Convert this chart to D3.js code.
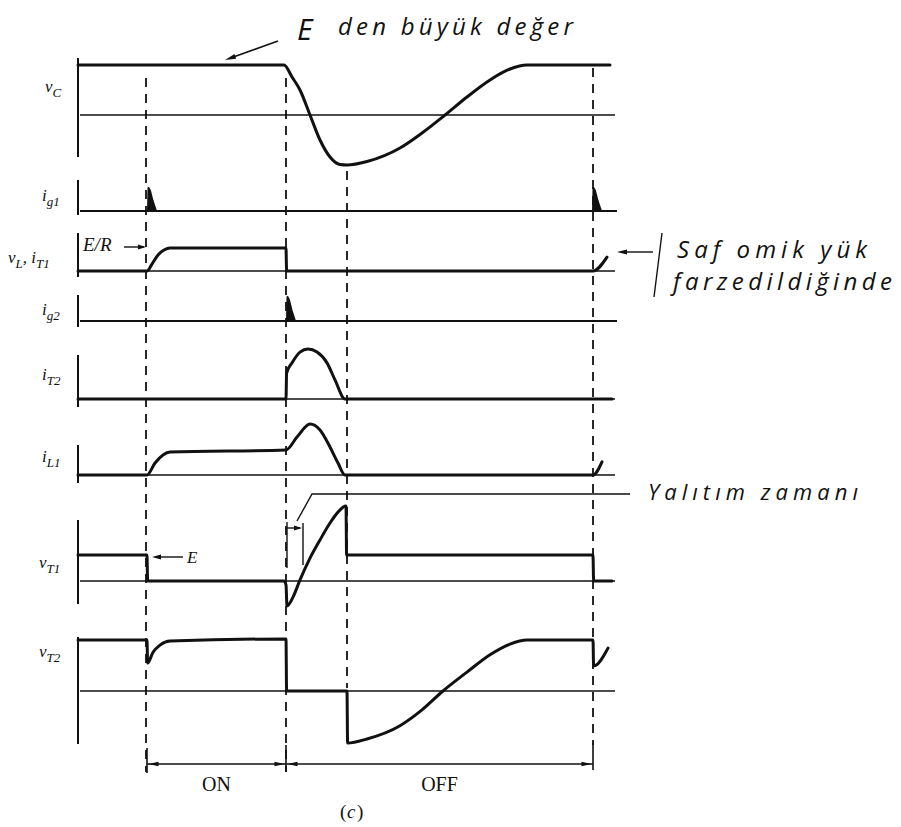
<!DOCTYPE html>
<html>
<head>
<meta charset="utf-8">
<script src="https://cdn.jsdelivr.net/npm/d3@7"></script>
<style>
  body { margin: 0; background: #fff; }
  svg { display: block; }
  .lbl { font-family: "Liberation Serif", "DejaVu Serif", serif; font-style: italic; fill: #111; }
  .rom { font-family: "Liberation Serif", "DejaVu Serif", serif; fill: #111; }
  .hand { font-family: "Open Sans", "DejaVu Sans", sans-serif; font-style: italic; font-weight: 400; fill: #111; }
</style>
</head>
<body>
<div id="chart"></div>
<script>
const width = 901;
const height = 827;

// time is in arbitrary units, 0 = start of the traces
const events = [68, 208, 269, 515];          // dashed markers: T1 on, T2 on (T1 off), vC minimum, T1 on again
const intervals = [[69, 208], [208, 515]];
const intervalNames = ['ON', 'OFF'];

// waveforms as [t, value]; currents in units of E/R
const vC  = [[0, 1], [206, 1], [214, 0.76], [222, 0.5], [232, 0], [242, -0.5], [252, -0.84], [262, -0.99], [269, -1],
             [289, -0.93], [322, -0.66], [344, -0.36], [367, 0], [389, 0.36], [412, 0.7], [432, 0.92], [449, 1], [532, 1]];
const ig1Pulses = [70, 515];
const ig2Pulses = [209];
const pulseShape = [[0, 0], [0.5, 1], [2, 0.88], [4.5, 0.45], [8, 0]];
const vLiT1 = [[0, 0], [69, 0], [74, 0.3], [80, 0.7], [86, 0.91], [92, 1], [208, 1], [208.6, 0], [515, 0], [529, 0.6]];
const iT2 = [[0, 0], [208, 0], [208.6, 1.13], [214, 1.57], [222, 2.04], [230, 2.17], [239, 2.04], [249, 1.57],
             [257, 0.83], [267, 0], [534, 0]];
const iL1 = [[0, 0], [69, 0], [77, 0.52], [85, 0.87], [92, 1], [208, 1.09], [219, 1.65], [232, 2.22], [242, 1.96],
             [252, 1.22], [260, 0.52], [267, 0], [515, 0], [524, 0.57]];
const vT1 = [[0, 1], [69, 1], [69.6, 0], [206, 0], [208, -0.15], [209, -0.96], [215, -0.62], [222, 0.04], [232, 0.88],
             [242, 1.58], [252, 2.23], [260, 2.65], [268, 2.88], [268.6, 1], [515, 1], [515.6, 0], [534, 0]];
const vT2 = [[0, 1], [69, 1], [69.6, 0.55], [75, 0.76], [82, 0.9], [92, 0.98], [208, 1.02], [208.6, 0], [269, 0],
             [269.6, -1.02], [289, -0.94], [322, -0.68], [344, -0.37], [365, 0], [389, 0.37], [412, 0.71], [432, 0.92],
             [449, 1], [515, 1], [515.6, 0.49], [530, 0.84]];

const svg = d3.select('#chart')
  .append('svg')
  .attr('width', width)
  .attr('height', height)
  .attr('viewBox', '0 0 ' + width + ' ' + height);

svg.append('rect').attr('width', width).attr('height', height).attr('fill', '#fff');

const x = d3.scaleLinear().domain([0, 540]).range([78, 618]);

const panels = [
  { data: vC, zero: 115, unit: 50, top: 58, bottom: 157, label: [['v', 'C']], lx: 45, ly: 92 },
  { pulses: ig1Pulses, zero: 211, unit: 23, top: 180, bottom: 215, label: [['i', 'g1']], lx: 42, ly: 201 },
  { data: vLiT1, zero: 271, unit: 23, top: 233, bottom: 277, label: [['v', 'L'], [', i', 'T1']], lx: 8, ly: 263 },
  { pulses: ig2Pulses, zero: 321, unit: 24, top: 295, bottom: 327, label: [['i', 'g2']], lx: 42, ly: 315 },
  { data: iT2, zero: 399, unit: 23, top: 355, bottom: 407, label: [['i', 'T2']], lx: 42, ly: 380 },
  { data: iL1, zero: 475, unit: 23, top: 445, bottom: 483, label: [['i', 'L1']], lx: 42, ly: 462 },
  { data: vT1, zero: 581, unit: 26, top: 520, bottom: 604, label: [['v', 'T1']], lx: 39, ly: 568 },
  { data: vT2, zero: 691, unit: 51, top: 637, bottom: 744, label: [['v', 'T2']], lx: 39, ly: 657 }
];
panels.forEach(p => { p.y = d3.scaleLinear().domain([0, 1]).range([p.zero, p.zero - p.unit]); });

const ink = '#111';

function arrowHead(g, tx, ty, angle, len, half) {
  len = len || 9; half = half || 2.5;
  const a = angle * Math.PI / 180;
  const bx = tx - len * Math.cos(a), by = ty - len * Math.sin(a);
  const nx = -Math.sin(a) * half, ny = Math.cos(a) * half;
  g.append('path')
    .attr('d', 'M' + tx + ',' + ty + 'L' + (bx + nx) + ',' + (by + ny) + 'L' + (bx - nx) + ',' + (by - ny) + 'Z')
    .attr('fill', ink);
}

// dashed event markers
const dashExtent = [[78, 772], [78, 772], [171, 688], [68, 745]];
svg.append('g').selectAll('line')
  .data(events)
  .enter()
  .append('line')
  .attr('x1', d => x(d)).attr('x2', d => x(d))
  .attr('y1', (d, i) => dashExtent[i][0])
  .attr('y2', (d, i) => dashExtent[i][1])
  .attr('stroke', ink)
  .attr('stroke-width', 1.8)
  .attr('stroke-dasharray', '9,7');

const line = d3.line().curve(d3.curveMonotoneX);

panels.forEach(p => {
  const g = svg.append('g');
  // vertical axis
  g.append('line')
    .attr('x1', x(0)).attr('x2', x(0))
    .attr('y1', p.top).attr('y2', p.bottom)
    .attr('stroke', ink).attr('stroke-width', 2);
  // zero line
  g.append('line')
    .attr('x1', x(2)).attr('x2', x(p.pulses ? 539 : 537))
    .attr('y1', p.y(0)).attr('y2', p.y(0))
    .attr('stroke', ink).attr('stroke-width', p.pulses ? 2 : 1.3);

  if (p.data) {
    g.append('path')
      .attr('d', line(p.data.map(d => [x(d[0]), p.y(d[1])])))
      .attr('fill', 'none')
      .attr('stroke', ink)
      .attr('stroke-width', 3)
      .attr('stroke-linejoin', 'round')
      .attr('stroke-linecap', 'round');
  }
  if (p.pulses) {
    p.pulses.forEach(t0 => {
      g.append('path')
        .attr('d', d3.line()(pulseShape.map(d => [x(t0 + d[0]), p.y(d[1])])) + 'Z')
        .attr('fill', ink)
        .attr('stroke', ink)
        .attr('stroke-width', 2)
        .attr('stroke-linejoin', 'round');
    });
  }

  // label with subscripts
  const txt = g.append('text').attr('class', 'lbl').attr('x', p.lx).attr('y', p.ly);
  p.label.forEach((part, i) => {
    txt.append('tspan').attr('font-size', 17).attr('dy', i === 0 ? 0 : -5).text(part[0]);
    txt.append('tspan').attr('font-size', 13).attr('dy', 5).text(part[1]);
  });
});

const ann = svg.append('g');
const pL = panels[2], pT1 = panels[6];

// E/R marker
ann.append('text').attr('class', 'lbl').attr('x', 83).attr('y', pL.y(1) + 3).attr('font-size', 19).text('E/R');
ann.append('line')
  .attr('x1', 124).attr('x2', x(events[0]) - 2)
  .attr('y1', pL.y(1) - 1).attr('y2', pL.y(1) - 1)
  .attr('stroke', ink).attr('stroke-width', 1.4);
arrowHead(ann, x(events[0]), pL.y(1) - 1, 0, 8, 2.5);

// E marker on vT1
ann.append('text').attr('class', 'lbl').attr('x', 187).attr('y', pT1.y(1) + 8).attr('font-size', 17).text('E');
ann.append('line')
  .attr('x1', 183).attr('x2', x(events[0]) + 10)
  .attr('y1', pT1.y(1) + 2).attr('y2', pT1.y(1) + 2)
  .attr('stroke', ink).attr('stroke-width', 1.4);
arrowHead(ann, x(events[0]) + 6, pT1.y(1) + 2, 180, 9, 2.5);

// turn-off (Yalıtım) interval on vT1
ann.append('line').attr('x1', x(209)).attr('x2', x(209)).attr('y1', 522).attr('y2', 568)
  .attr('stroke', ink).attr('stroke-width', 1.4);
ann.append('line').attr('x1', x(225)).attr('x2', x(225)).attr('y1', 523).attr('y2', 565)
  .attr('stroke', ink).attr('stroke-width', 1.4);
ann.append('line').attr('x1', x(209)).attr('x2', x(222)).attr('y1', 528).attr('y2', 528)
  .attr('stroke', ink).attr('stroke-width', 1.4);
arrowHead(ann, x(225) - 1, 528, 0, 8, 2.5);
ann.append('path')
  .attr('d', 'M' + x(219) + ',521L' + x(234) + ',494L' + x(552) + ',494')
  .attr('fill', 'none').attr('stroke', ink).attr('stroke-width', 1.4);
ann.append('text').attr('class', 'hand').attr('x', 648).attr('y', 500)
  .attr('font-size', 22).attr('textLength', 210).attr('lengthAdjust', 'spacing').text('Yalıtım zamanı');

// top note
ann.append('text').attr('class', 'hand').attr('x', 297).attr('y', 40).attr('font-size', 30).text('E');
ann.append('text').attr('class', 'hand').attr('x', 338).attr('y', 35)
  .attr('font-size', 24).attr('textLength', 235).attr('lengthAdjust', 'spacing').text('den büyük değer');
ann.append('line').attr('x1', 278).attr('y1', 41).attr('x2', 232).attr('y2', 57.5)
  .attr('stroke', ink).attr('stroke-width', 1.5);
arrowHead(ann, 225, 60, Math.atan2(19, -53) * 180 / Math.PI, 11, 2.5);

// pure resistive load note
ann.append('line').attr('x1', 626).attr('x2', 653).attr('y1', 252).attr('y2', 252)
  .attr('stroke', ink).attr('stroke-width', 1.4);
arrowHead(ann, 617, 252, 180, 10, 2.5);
ann.append('line').attr('x1', 662).attr('y1', 233).attr('x2', 654).attr('y2', 297)
  .attr('stroke', ink).attr('stroke-width', 1.4);
ann.append('text').attr('class', 'hand').attr('x', 677).attr('y', 258)
  .attr('font-size', 24).attr('textLength', 190).attr('lengthAdjust', 'spacing').text('Saf omik yük');
ann.append('text').attr('class', 'hand').attr('x', 673).attr('y', 290)
  .attr('font-size', 24).attr('textLength', 219).attr('lengthAdjust', 'spacing').text('farzedildiğinde');

// ON / OFF brackets
const by = 764;
const br = svg.append('g');
br.append('line').attr('x1', x(intervals[0][0])).attr('x2', x(intervals[1][1]))
  .attr('y1', by).attr('y2', by).attr('stroke', ink).attr('stroke-width', 1.5);
[[intervals[0][0], 748, 773], [intervals[0][1], 745, 772], [intervals[1][1], 743, 770]].forEach(d => {
  br.append('line').attr('x1', x(d[0])).attr('x2', x(d[0])).attr('y1', d[1]).attr('y2', d[2])
    .attr('stroke', ink).attr('stroke-width', 1.6);
});
intervals.forEach((iv, i) => {
  arrowHead(br, x(iv[0]) + 1.5, by, 180, 10, 2.2);
  arrowHead(br, x(iv[1]) - 1.5, by, 0, 10, 2.2);
  br.append('text').attr('class', 'rom')
    .attr('x', x((iv[0] + iv[1]) / 2)).attr('y', 791)
    .attr('text-anchor', 'middle').attr('font-size', 20)
    .text(intervalNames[i]);
});
br.append('text').attr('class', 'rom').attr('x', 340).attr('y', 818).attr('font-size', 19).text('(');
br.append('text').attr('class', 'lbl').attr('x', 347).attr('y', 818).attr('font-size', 19).text('c');
br.append('text').attr('class', 'rom').attr('x', 357).attr('y', 818).attr('font-size', 19).text(')');
</script>
</body>
</html>
